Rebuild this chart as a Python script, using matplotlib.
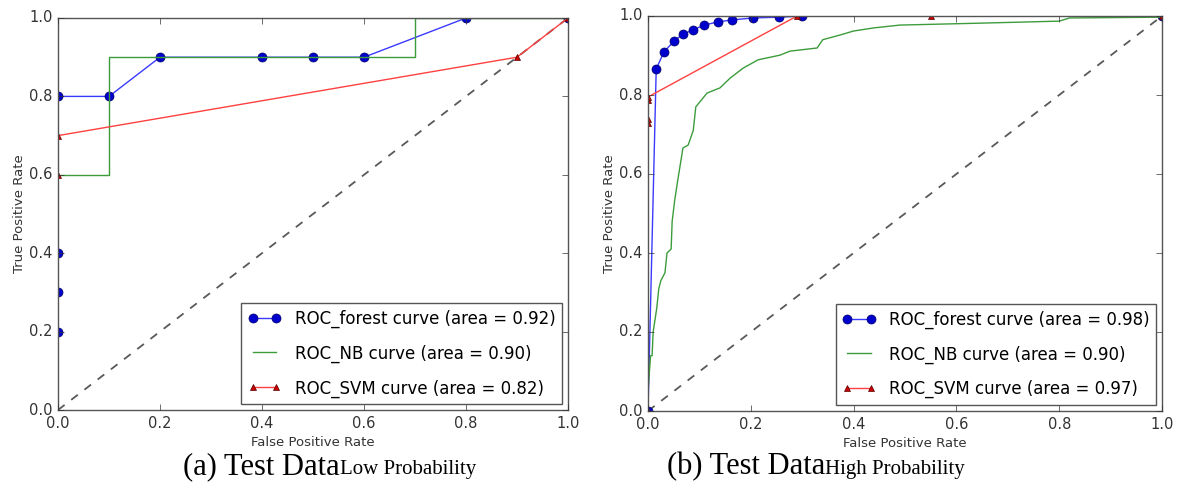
import matplotlib
matplotlib.use('Agg')
import matplotlib.pyplot as plt
import numpy as np

plt.style.use('classic')
plt.rcParams['font.family'] = ['DejaVu Sans']

# (a) low probability test data
forest_fpr_a = [0.0, 0.0, 0.0, 0.0, 0.1, 0.2, 0.4, 0.5, 0.6, 0.8, 1.0]
forest_tpr_a = [0.2, 0.3, 0.4, 0.8, 0.8, 0.9, 0.9, 0.9, 0.9, 1.0, 1.0]
nb_fpr_a = [0.0, 0.1, 0.1, 0.7, 0.7, 1.0]
nb_tpr_a = [0.6, 0.6, 0.9, 0.9, 1.0, 1.0]
svm_fpr_a = [0.0, 0.0, 0.9, 1.0]
svm_tpr_a = [0.6, 0.7, 0.9, 1.0]
auc_a = [0.92, 0.90, 0.82]

# (b) high probability test data
forest_fpr_b = [0.0, 0.016, 0.031, 0.051, 0.068, 0.088, 0.109, 0.136, 0.163, 0.204, 0.255, 0.30, 1.0]
forest_tpr_b = [0.0, 0.866, 0.909, 0.937, 0.954, 0.965, 0.977, 0.985, 0.990, 0.995, 0.997, 1.0, 1.0]
nb_fpr_b = [0.0, 0.005, 0.008, 0.010, 0.017, 0.021, 0.025, 0.033, 0.037, 0.045, 0.047, 0.052,
            0.058, 0.068, 0.078, 0.088, 0.093, 0.115, 0.14, 0.16, 0.185, 0.214, 0.257, 0.276,
            0.329, 0.34, 0.374, 0.40, 0.44, 0.49, 0.65, 0.80, 0.82, 0.998, 1.0]
nb_tpr_b = [0.05, 0.14, 0.14, 0.20, 0.26, 0.31, 0.33, 0.35, 0.40, 0.41, 0.48, 0.534,
            0.585, 0.666, 0.673, 0.71, 0.77, 0.805, 0.818, 0.843, 0.868, 0.889, 0.901, 0.911,
            0.919, 0.94, 0.952, 0.962, 0.97, 0.977, 0.982, 0.987, 0.995, 0.997, 1.0]
svm_fpr_b = [0.0, 0.0, 0.0, 0.0, 0.0, 0.29, 0.55, 1.0]
svm_tpr_b = [0.0, 0.73, 0.74, 0.787, 0.795, 1.0, 1.0, 1.0]
auc_b = [0.98, 0.90, 0.97]

ticks = [0.0, 0.2, 0.4, 0.6, 0.8, 1.0]
captions = [('(a) Test Data', 'Low Probability'), ('(b) Test Data', 'High Probability')]

W, H = 1177, 486
fig = plt.figure(figsize=(W / 100, H / 100), dpi=100, facecolor='white')

boxes = [(58, 18, 568, 410), (648, 16, 1162, 411)]
data = [
    (forest_fpr_a, forest_tpr_a, nb_fpr_a, nb_tpr_a, svm_fpr_a, svm_tpr_a, auc_a),
    (forest_fpr_b, forest_tpr_b, nb_fpr_b, nb_tpr_b, svm_fpr_b, svm_tpr_b, auc_b),
]
cap_x = [183, 667]

for i in range(2):
    x0, y0, x1, y1 = boxes[i]
    ax = fig.add_axes([x0 / W, 1 - y1 / H, (x1 - x0) / W, (y1 - y0) / H])
    ffpr, ftpr, nfpr, ntpr, sfpr, stpr, auc = data[i]
    ax.plot([0, 1], [0, 1], '--', color='0.35', lw=1.3)
    ax.plot(ffpr, ftpr, '-o', color='#3a3aff', lw=1, ms=6.5, mfc='#0000cc', mec='#000066', mew=0.5,
            label='ROC_forest curve (area = %0.2f)' % auc[0])
    ax.plot(nfpr, ntpr, '-', color='#3c9c3c', lw=1,
            label='ROC_NB curve (area = %0.2f)' % auc[1])
    ax.plot(sfpr, stpr, '-^', color='#ff4040', lw=1, ms=5, mfc='#cc0000', mec='#550000', mew=0.5,
            label='ROC_SVM curve (area = %0.2f)' % auc[2])
    ax.set_xlim(0, 1)
    ax.set_ylim(0, 1)
    ax.set_xticks(ticks)
    ax.set_yticks(ticks)
    ax.tick_params(labelsize=10.5, colors='#333333', length=4)
    for s in ax.spines.values():
        s.set_color('#555555')
    ax.set_xlabel('False Positive Rate', fontsize=9.5, color='#333333', labelpad=4)
    ax.set_ylabel('True Positive Rate', fontsize=9.5, color='#333333', labelpad=2)
    leg = ax.legend(loc='lower right', fontsize=12, numpoints=2, borderaxespad=0.35,
                    labelspacing=1.0)
    leg.get_frame().set_edgecolor('#555555')
    t1 = fig.text(cap_x[i] / W, 1 - 474 / H, captions[i][0], fontsize=22,
                  family='Liberation Serif', ha='left', va='baseline')
    fig.canvas.draw()
    bb = t1.get_window_extent()
    fig.text(bb.x1 / W, 1 - 474 / H, captions[i][1], fontsize=15,
             family='Liberation Serif', ha='left', va='baseline')

plt.savefig('out.png', dpi=100, facecolor='white')
